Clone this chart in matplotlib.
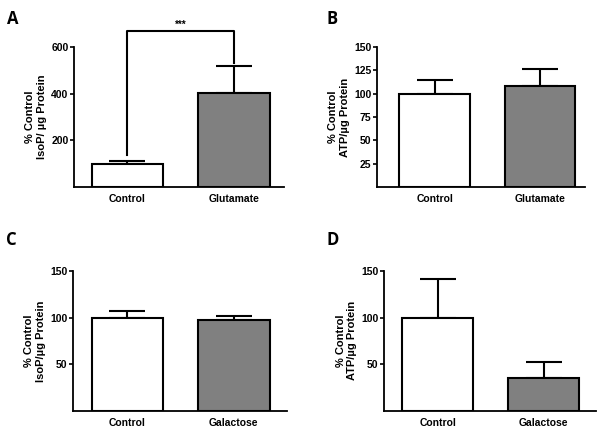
import numpy as np
import matplotlib.pyplot as plt

plt.rcParams['font.family'] = ['Liberation Sans', 'DejaVu Sans']

# panel data: means and upper error
labels_glu = ['Control', 'Glutamate']
labels_gal = ['Control', 'Galactose']

isop_glu = [100, 405]
isop_glu_err = [12, 115]
atp_glu = [100, 108]
atp_glu_err = [15, 18]
isop_gal = [100, 97]
isop_gal_err = [7, 5]
atp_gal = [100, 35]
atp_gal_err = [41, 17]

ylab_isop_a = '% Control\nIsoP/ µg Protein'
ylab_atp = '% Control\nATP/µg Protein'
ylab_isop_c = '% Control\nIsoP/µg Protein'

fig = plt.figure(figsize=(6.02, 4.32), dpi=100)

panels = [
    # rect, labels, vals, errs, ylabel, ylim, yticks, xlim, letter, letter pos
    ([0.123, 0.567, 0.349, 0.324], labels_glu, isop_glu, isop_glu_err, ylab_isop_a,
     (0, 600), [200, 400, 600], (-0.50, 1.47), 'A', (0.012, 0.955)),
    ([0.626, 0.567, 0.346, 0.324], labels_glu, atp_glu, atp_glu_err, ylab_atp,
     (0, 150), [25, 50, 75, 100, 125, 150], (-0.55, 1.43), 'B', (0.543, 0.955)),
    ([0.121, 0.049, 0.356, 0.324], labels_gal, isop_gal, isop_gal_err, ylab_isop_c,
     (0, 150), [50, 100, 150], (-0.51, 1.50), 'C', (0.010, 0.445)),
    ([0.638, 0.049, 0.352, 0.324], labels_gal, atp_gal, atp_gal_err, ylab_atp,
     (0, 150), [50, 100, 150], (-0.505, 1.495), 'D', (0.543, 0.445)),
]

axes = []
for rect, labs, vals, errs, ylab, ylim, yt, xl, letter, lpos in panels:
    ax = fig.add_axes(rect)
    x = np.arange(len(labs))
    ax.bar(x, vals, width=0.67, color=['white', '#808080'], edgecolor='black',
           linewidth=1.5, zorder=2)
    ax.errorbar(x, vals, yerr=[np.zeros(len(errs)), errs], fmt='none',
                ecolor='black', elinewidth=1.5, capsize=13, capthick=1.5, zorder=1)
    ax.set_ylim(*ylim)
    ax.set_xlim(*xl)
    ax.set_yticks(yt)
    ax.set_xticks(x)
    ax.set_xticklabels(labs, fontsize=7.5, fontweight='bold')
    ax.tick_params(axis='x', length=0, pad=5)
    ax.tick_params(axis='y', labelsize=7.5, length=3, width=1.2, pad=1)
    for t in ax.get_yticklabels():
        t.set_fontweight('bold')
    ax.set_ylabel(ylab, fontsize=8, fontweight='bold', labelpad=3)
    ax.spines['top'].set_visible(False)
    ax.spines['right'].set_visible(False)
    ax.spines['left'].set_linewidth(1.3)
    ax.spines['bottom'].set_linewidth(1.3)
    fig.text(lpos[0], lpos[1], letter, fontsize=12, fontweight='bold',
             family=['Open Sans', 'DejaVu Sans'], va='center')
    axes.append(ax)

# significance bracket on panel A
axA = axes[0]
bar_y = 668
axA.plot([0, 0, 1, 1], [136, bar_y, bar_y, 532], color='black', lw=1.5,
         clip_on=False)
axA.text(0.5, bar_y + 8, '***', ha='center', va='bottom', fontsize=7,
         fontweight='bold')

fig.savefig('out.png', dpi=100)
